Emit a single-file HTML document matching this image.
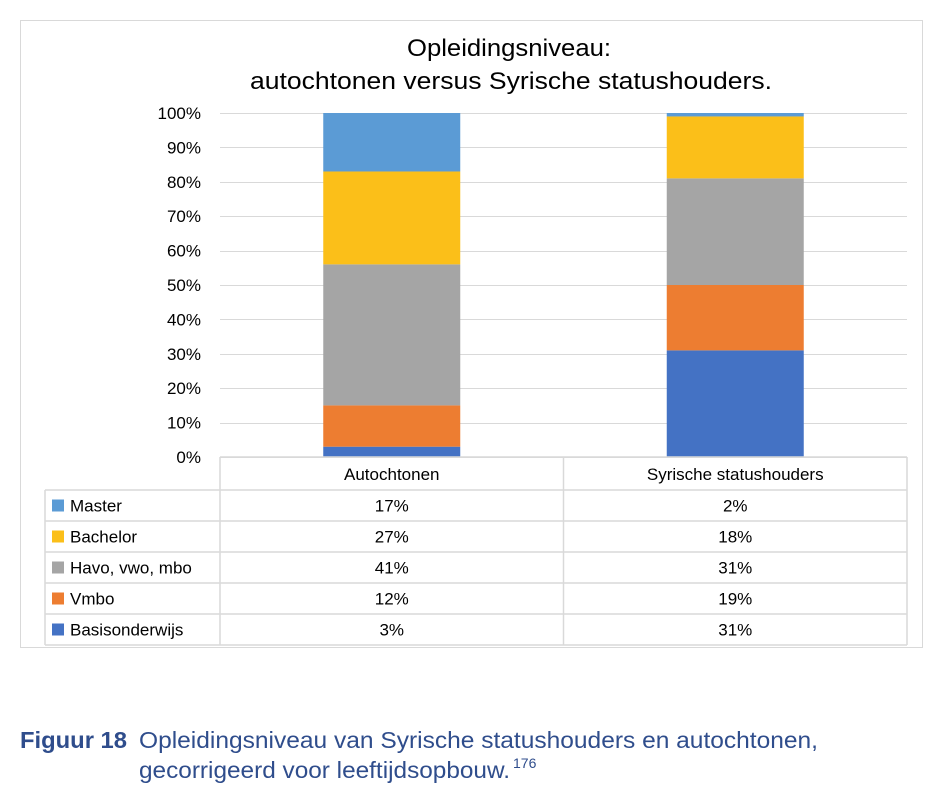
<!DOCTYPE html>
<html><head><meta charset="utf-8">
<style>
html,body{margin:0;padding:0;background:#fff;width:945px;height:803px;overflow:hidden}
svg{display:block;font-family:"Liberation Sans",sans-serif}
</style></head>
<body>
<svg id="chart" width="945" height="803" viewBox="0 0 945 803">
<rect x="20.5" y="20.5" width="902" height="627" fill="#fff" stroke="#d9d9d9"/>
<text x="407" y="56" font-size="24" textLength="204" lengthAdjust="spacingAndGlyphs" fill="#000">Opleidingsniveau:</text>
<text x="250" y="89" font-size="24" textLength="522" lengthAdjust="spacingAndGlyphs" fill="#000">autochtonen versus Syrische statushouders.</text>
<g id="grid"></g>
<g id="yticks"></g>
<g id="bars"></g>
<g id="table"></g>
<text x="20" y="748" font-size="23" font-weight="bold" textLength="107" lengthAdjust="spacingAndGlyphs" fill="#2f4d8c">Figuur 18</text>
<text x="139" y="748" font-size="23" textLength="679" lengthAdjust="spacingAndGlyphs" fill="#2f4d8c">Opleidingsniveau van Syrische statushouders en autochtonen,</text>
<text x="139" y="778" font-size="23" textLength="371" lengthAdjust="spacingAndGlyphs" fill="#2f4d8c">gecorrigeerd voor leeftijdsopbouw.</text>
<text x="513" y="768" font-size="14" fill="#2f4d8c">176</text>
</svg>
<script>
const categories = ["Autochtonen", "Syrische statushouders"];
const seriesNames = ["Basisonderwijs", "Vmbo", "Havo, vwo, mbo", "Bachelor", "Master"];
const basisonderwijs = [3, 31];
const vmbo = [12, 19];
const havo = [41, 31];
const bachelor = [27, 18];
const master = [17, 2];
const yTicks = [0, 10, 20, 30, 40, 50, 60, 70, 80, 90, 100];
const colors = ["#4472c4", "#ed7d31", "#a5a5a5", "#fbbf19", "#5b9bd5"];
const series = [basisonderwijs, vmbo, havo, bachelor, master];

const NS = "http://www.w3.org/2000/svg";
const plotL = 220, plotR = 907, plotT = 113, plotB = 457;
const yScale = v => plotB - (Math.min(v, 100) / 100) * (plotB - plotT);
const catW = (plotR - plotL) / categories.length;
const xCenter = i => plotL + catW * (i + 0.5);
const barW = 137;
function mk(tag, attrs, parent) {
  const e = document.createElementNS(NS, tag);
  for (const k in attrs) e.setAttribute(k, attrs[k]);
  parent.appendChild(e);
  return e;
}
const grid = document.getElementById("grid");
const yt = document.getElementById("yticks");
yTicks.forEach(t => {
  const y = Math.round(yScale(t)) + 0.5;
  const l = mk("line", {x1: plotL, x2: plotR, y1: y, y2: y, stroke: "#d9d9d9", "stroke-width": 1}, grid);
  
  
  const tx = mk("text", {x: 201, y: yScale(t) + 6, "text-anchor": "end", "font-size": 17, fill: "#000"}, yt);
  tx.textContent = t + "%";
  
  
});
const bars = document.getElementById("bars");
categories.forEach((c, i) => {
  let cum = 0;
  series.forEach((s, j) => {
    const y0 = yScale(cum), y1 = yScale(cum + s[i]);
    cum += s[i];
    if (y0 - y1 <= 0) return;
    const r = mk("rect", {x: xCenter(i) - barW / 2, y: y1, width: barW, height: y0 - y1, fill: colors[j]}, bars);
    
    
  });
});
const tb = document.getElementById("table");
const rowH = 31, hdrT = 457, hdrB = 490, tblL = 45;
const rows = [master, bachelor, havo, vmbo, basisonderwijs];
const rowNames = ["Master", "Bachelor", "Havo, vwo, mbo", "Vmbo", "Basisonderwijs"];
const rowColors = [colors[4], colors[3], colors[2], colors[1], colors[0]];
const stroke = {stroke: "#d9d9d9", "stroke-width": 1.5};
const lines = [];
lines.push([plotL, hdrT, plotR, hdrT]);
lines.push([plotL, hdrT, plotL, hdrB + rowH * 5]);
lines.push([plotL + catW, hdrT, plotL + catW, hdrB + rowH * 5]);
lines.push([plotR, hdrT, plotR, hdrB + rowH * 5]);
lines.push([tblL, hdrB, tblL, hdrB + rowH * 5]);
for (let k = 0; k <= 5; k++) lines.push([tblL, hdrB + rowH * k, plotR, hdrB + rowH * k]);
lines.forEach(p => {
  const l = mk("line", Object.assign({x1: p[0], y1: p[1], x2: p[2], y2: p[3]}, stroke), tb);
  
  
});
categories.forEach((c, i) => {
  const t = mk("text", {x: xCenter(i), y: hdrT + 23, "text-anchor": "middle", "font-size": 17, fill: "#000"}, tb);
  t.textContent = c;
  
  
});
rows.forEach((s, k) => {
  const cy = hdrB + rowH * k + rowH / 2;
  const sw = mk("rect", {x: 52, y: cy - 6, width: 12, height: 12, fill: rowColors[k]}, tb);
  
  
  const n = mk("text", {x: 70, y: cy + 6, "font-size": 17, fill: "#000"}, tb);
  n.textContent = rowNames[k];
  
  
  s.forEach((v, i) => {
    const t = mk("text", {x: xCenter(i), y: cy + 6, "text-anchor": "middle", "font-size": 17, fill: "#000"}, tb);
    t.textContent = v + "%";
    
    
  });
});
</script>
</body></html>
